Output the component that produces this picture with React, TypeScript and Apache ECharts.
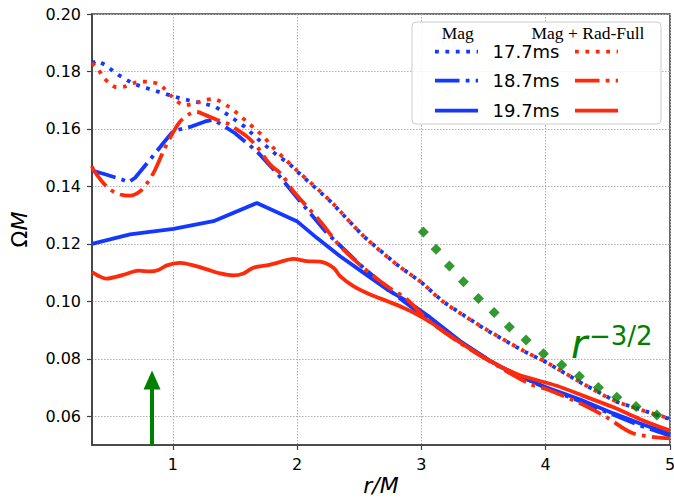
import { useEffect, useRef } from 'react';
import * as echarts from 'echarts';

const xTicks = [1, 2, 3, 4, 5];
const yTicks = [0.06, 0.08, 0.1, 0.12, 0.14, 0.16, 0.18, 0.2];

const mag177 = [[0.35,0.1828],[0.389,0.1838],[0.455,0.1823],[0.562,0.1788],[0.683,0.1757],[0.812,0.1739],[0.946,0.1721],[1.080,0.1704],[1.214,0.1692],[1.340,0.1678],[1.455,0.1646],[1.574,0.1609],[1.689,0.1563],[1.823,0.1514],[1.944,0.1476],[2.0,0.1452],[2.266,0.1349],[2.533,0.1227],[2.802,0.1128],[3.0,0.1066],[3.177,0.0998],[3.512,0.0903],[3.821,0.0827],[4.009,0.0787],[4.290,0.0715],[4.572,0.0650],[5.0,0.0590]];
const mag187 = [[0.35,0.1455],[0.442,0.1444],[0.590,0.1424],[0.643,0.1414],[0.697,0.1430],[0.817,0.1493],[0.924,0.1551],[1.005,0.1593],[1.139,0.1607],[1.260,0.1626],[1.327,0.1632],[1.407,0.1611],[1.501,0.1585],[1.676,0.1522],[1.837,0.1447],[2.024,0.1348],[2.239,0.1238],[2.533,0.1117],[2.802,0.1018],[3.016,0.0949],[3.311,0.0858],[3.633,0.0772],[4.009,0.0697],[4.277,0.0652],[4.545,0.0605],[4.759,0.0568],[5.0,0.0532]];
const mag197 = [[0.35,0.1200],[0.656,0.1233],[1.005,0.1252],[1.327,0.1279],[1.676,0.1342],[1.998,0.1279],[2.158,0.1221],[2.346,0.1157],[2.533,0.1100],[2.722,0.1042],[2.883,0.1001],[3.070,0.0944],[3.311,0.0862],[3.553,0.0793],[3.767,0.0743],[4.009,0.0700],[4.277,0.0658],[4.545,0.0610],[4.759,0.0575],[5.0,0.0538]];
const rad177 = [[0.35,0.1830],[0.401,0.1806],[0.442,0.1780],[0.490,0.1759],[0.549,0.1745],[0.616,0.1748],[0.683,0.1759],[0.751,0.1765],[0.817,0.1763],[0.884,0.1757],[0.938,0.1738],[0.992,0.1713],[1.037,0.1695],[1.085,0.1684],[1.139,0.1685],[1.206,0.1693],[1.260,0.1701],[1.327,0.1704],[1.381,0.1696],[1.447,0.1678],[1.501,0.1661],[1.555,0.1641],[1.608,0.1620],[1.662,0.1600],[1.729,0.1574],[1.796,0.1540],[1.890,0.1500],[2.0,0.1455],[2.266,0.1350],[2.533,0.1228],[2.802,0.1128],[3.0,0.1066],[3.177,0.0998],[3.512,0.0905],[3.821,0.0828],[4.009,0.0787],[4.290,0.0716],[4.572,0.0651],[5.0,0.0592]];
const rad187 = [[0.35,0.1470],[0.361,0.1458],[0.429,0.1418],[0.496,0.1389],[0.576,0.1372],[0.656,0.1368],[0.737,0.1383],[0.804,0.1418],[0.858,0.1458],[0.924,0.1522],[0.992,0.1580],[1.059,0.1626],[1.139,0.1653],[1.193,0.1659],[1.260,0.1649],[1.354,0.1632],[1.434,0.1620],[1.488,0.1606],[1.595,0.1574],[1.676,0.1539],[1.783,0.1476],[1.877,0.1441],[1.970,0.1383],[2.185,0.1279],[2.346,0.1192],[2.533,0.1117],[2.722,0.1053],[2.883,0.1007],[3.043,0.0938],[3.311,0.0855],[3.633,0.0770],[3.874,0.0712],[4.009,0.0694],[4.277,0.0645],[4.492,0.0596],[4.706,0.0540],[5.0,0.0523]];
const rad197 = [[0.35,0.1102],[0.415,0.1086],[0.469,0.1079],[0.549,0.1086],[0.630,0.1096],[0.723,0.1107],[0.817,0.1104],[0.884,0.1109],[0.952,0.1125],[1.059,0.1134],[1.166,0.1125],[1.274,0.1111],[1.381,0.1097],[1.488,0.1090],[1.568,0.1097],[1.648,0.1117],[1.756,0.1125],[1.837,0.1134],[1.970,0.1148],[2.078,0.1140],[2.185,0.1138],[2.292,0.1117],[2.346,0.1088],[2.453,0.1053],[2.587,0.1024],[2.722,0.1001],[2.855,0.0978],[2.963,0.0955],[3.070,0.0928],[3.311,0.0857],[3.526,0.0799],[3.767,0.0747],[4.089,0.0706],[4.303,0.0671],[4.545,0.0631],[4.759,0.0590],[5.0,0.0550]];
const powerLaw = [[3.016,0.1241],[3.118,0.1181],[3.225,0.1123],[3.338,0.1068],[3.459,0.1010],[3.585,0.0961],[3.708,0.0911],[3.842,0.0865],[3.982,0.0818],[4.129,0.0778],[4.271,0.0739],[4.424,0.0700],[4.572,0.0666],[4.727,0.0634],[4.894,0.0604]];
const arrowX = 0.833;
const arrowY = [0.05, 0.0726];

const BLUE = '#1538ff';
const RED = '#ff2a0a';
const GREEN = '#008000';
const LW = 3.8;
const DOT = [3.8, 6.6];
const DASHDOT = [24.5, 6.2, 3.8, 6.2];
const FONT = 'DejaVu Sans';

function lineSeries(name: string, data: number[][], color: string, dash: any, smooth: number | boolean) {
  return {
    name, type: 'line', data, showSymbol: false, smooth,
    lineStyle: { color, width: LW, type: dash, cap: 'butt' },
    silent: true,
  };
}

export default function App() {
  const ref = useRef<HTMLDivElement>(null);
  useEffect(() => {
    const chart = echarts.init(ref.current!, null, { renderer: 'svg' });
    const legendRows = [
      { label: '17.7ms', dash: DOT, y: 51.7 },
      { label: '18.7ms', dash: DASHDOT, y: 80.7 },
      { label: '19.7ms', dash: null, y: 110.7 },
    ];
    const graphic: any[] = [
      { type: 'rect', shape: { x: 412, y: 22, width: 249, height: 102, r: 4 }, style: { fill: 'rgba(255,255,255,0.85)', stroke: '#cccccc', lineWidth: 1 }, z: 100 },
      { type: 'text', x: 457.7, y: 33, style: { text: 'Mag', font: '17.5px "Liberation Serif"', fill: '#000', align: 'center', verticalAlign: 'middle' }, z: 101 },
      { type: 'text', x: 588, y: 33, style: { text: 'Mag + Rad-Full', font: '17.5px "Liberation Serif"', fill: '#000', align: 'center', verticalAlign: 'middle' }, z: 101 },
      { type: 'text', x: 571, y: 344, style: { text: 'r', font: `italic 40px "${FONT}"`, fill: GREEN, align: 'left', verticalAlign: 'middle' }, z: 50 },
      { type: 'text', x: 589, y: 336, style: { text: '\u22123/2', font: `26px "${FONT}"`, fill: GREEN, align: 'left', verticalAlign: 'middle' }, z: 50 },
      { type: 'text', x: 381, y: 485, style: { text: 'r/M', font: `italic 22px "${FONT}"`, lineHeight: 22, fill: '#000', align: 'center', verticalAlign: 'middle' }, z: 50 },
    ];
    legendRows.forEach((r) => {
      graphic.push({ type: 'line', shape: { x1: 435, y1: r.y, x2: 478, y2: r.y }, style: { stroke: BLUE, lineWidth: LW, lineDash: r.dash || undefined }, z: 101 });
      graphic.push({ type: 'line', shape: { x1: 575, y1: r.y, x2: 618, y2: r.y }, style: { stroke: RED, lineWidth: LW, lineDash: r.dash || undefined }, z: 101 });
      graphic.push({ type: 'text', x: 492.5, y: r.y, style: { text: r.label, font: `18px "${FONT}"`, fill: '#000', align: 'left', verticalAlign: 'middle' }, z: 101 });
    });

    const option: any = {
      animation: false,
      backgroundColor: '#ffffff',
      grid: { left: 92, right: 4, top: 14, bottom: 54, containLabel: false, outerBoundsMode: 'none', show: true, borderColor: '#404040', borderWidth: 1.6, backgroundColor: 'transparent' },
      xAxis: {
        type: 'value', min: 0.35, max: 5,
        axisLine: { show: true, lineStyle: { color: '#404040', width: 1.6 } },
        axisTick: { show: true, inside: false, length: 5, customValues: xTicks, lineStyle: { color: '#404040', width: 1.2 } },
        axisLabel: { customValues: xTicks, margin: 11, fontFamily: FONT, fontSize: 16, color: '#000', formatter: (v: number) => String(v) },
        splitLine: { show: true, lineStyle: { color: '#b0b0b0', width: 1, type: [1.5, 1.5] } },
      },
      yAxis: {
        type: 'value', min: 0.05, max: 0.2,
        name: '{a|Ω}{b|M}', nameLocation: 'middle', nameGap: 62, nameRotate: 90,
        nameTextStyle: { fontFamily: FONT, fontSize: 22, color: '#000', rich: { a: { fontFamily: FONT, fontSize: 22, color: '#000' }, b: { fontFamily: FONT, fontSize: 22, fontStyle: 'italic', color: '#000' } } },
        axisLine: { show: true, lineStyle: { color: '#404040', width: 1.6 } },
        axisTick: { show: true, inside: false, length: 5, customValues: yTicks, lineStyle: { color: '#404040', width: 1.2 } },
        axisLabel: { customValues: yTicks, margin: 11, fontFamily: FONT, fontSize: 16, color: '#000', formatter: (v: number) => v.toFixed(2) },
        splitLine: { show: true, lineStyle: { color: '#b0b0b0', width: 1, type: [1.5, 1.5] } },
      },
      series: [
        lineSeries('Mag 17.7ms', mag177, BLUE, DOT, false),
        lineSeries('Mag 18.7ms', mag187, BLUE, DASHDOT, false),
        lineSeries('Mag 19.7ms', mag197, BLUE, 'solid', false),
        lineSeries('Mag+Rad 17.7ms', rad177, RED, DOT, 0.3),
        lineSeries('Mag+Rad 18.7ms', rad187, RED, DASHDOT, 0.3),
        lineSeries('Mag+Rad 19.7ms', rad197, RED, 'solid', 0.3),
        {
          name: 'r^-3/2', type: 'scatter', data: powerLaw, symbol: 'diamond', symbolSize: [11, 11],
          itemStyle: { color: GREEN }, silent: true, z: 5,
          markLine: {
            silent: true, symbol: ['none', 'triangle'], symbolSize: [17, 19],
            label: { show: false },
            lineStyle: { color: GREEN, width: 4, type: 'solid' },
            data: [[{ coord: [arrowX, arrowY[0]] }, { coord: [arrowX, arrowY[1]] }]],
          },
        },
      ],
      graphic,
    };
    chart.setOption(option);
    return () => chart.dispose();
  }, []);
  return <div ref={ref} style={{ position: 'fixed', left: 0, top: 0, width: 674, height: 499 }} />;
}
